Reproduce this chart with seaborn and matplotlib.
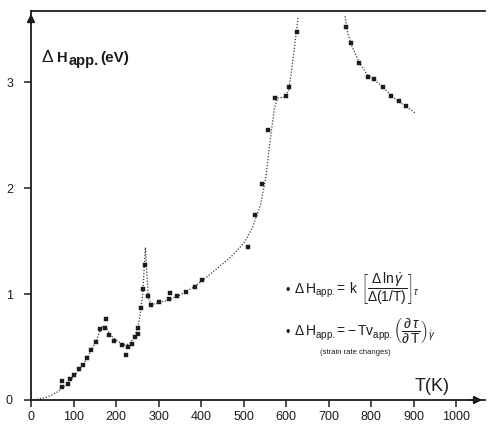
import matplotlib
matplotlib.use("Agg")
import matplotlib.pyplot as plt
import seaborn as sns
import pandas as pd

# Measured apparent activation enthalpy (eV) against temperature (K)
temp_pts = [74, 74, 88, 92, 101, 112, 122, 132, 142, 152, 161, 173, 176, 183,
            195, 214, 223, 229, 237, 244, 251, 251, 259, 263, 269, 274, 282,
            302, 325, 326, 344, 364, 385, 403, 509, 526, 544, 556, 574, 599,
            607, 625,
            740, 753, 772, 792, 806, 827, 845, 864, 882]
dh_pts = [0.18, 0.12, 0.15, 0.20, 0.24, 0.29, 0.33, 0.40, 0.47, 0.55, 0.67,
          0.68, 0.76, 0.61, 0.56, 0.52, 0.42, 0.50, 0.53, 0.59, 0.62, 0.68,
          0.87, 1.05, 1.27, 0.98, 0.90, 0.92, 0.95, 1.01, 0.98, 1.02, 1.07,
          1.13, 1.44, 1.75, 2.04, 2.55, 2.85, 2.87, 2.95, 3.47,
          3.52, 3.37, 3.18, 3.05, 3.03, 2.95, 2.87, 2.82, 2.77]

# Guide curve, low-temperature branch
curve_low_t = [0, 20, 40, 60, 75, 90, 100, 112, 122, 132, 142, 152, 161, 170,
               178, 190, 205, 220, 232, 244, 252, 258, 263, 266, 269, 272,
               276, 282, 295, 320, 350, 380, 410, 440, 470, 500, 520, 540,
               552, 562, 572, 580, 598, 606, 612, 620, 628]
curve_low_h = [0.0, 0.01, 0.03, 0.07, 0.12, 0.17, 0.22, 0.28, 0.33, 0.40,
               0.47, 0.55, 0.64, 0.70, 0.67, 0.60, 0.55, 0.52, 0.53, 0.60,
               0.70, 0.85, 1.02, 1.25, 1.44, 1.20, 0.96, 0.90, 0.91, 0.94,
               0.99, 1.06, 1.15, 1.25, 1.35, 1.48, 1.62, 1.85, 2.10, 2.45,
               2.75, 2.85, 2.86, 2.93, 3.10, 3.35, 3.62]

# Guide curve, high-temperature branch
curve_high_t = [738, 745, 755, 772, 790, 810, 830, 850, 870, 885, 902]
curve_high_h = [3.62, 3.45, 3.33, 3.18, 3.07, 3.01, 2.94, 2.86, 2.80, 2.76,
                2.71]

x_ticks = [0, 100, 200, 300, 400, 500, 600, 700, 800, 900, 1000]
y_ticks = [0, 1, 2, 3]

sns.set_theme(style="white")
plt.rcParams["font.family"] = ["Liberation Sans", "DejaVu Sans"]
plt.rcParams.update({
    "mathtext.fontset": "custom",
    "mathtext.rm": "Liberation Sans",
    "mathtext.it": "Liberation Sans:italic",
    "mathtext.bf": "Liberation Sans:bold",
})

W, H = 488, 425
ink = "#1c1c1c"
fig = plt.figure(figsize=(W / 100, H / 100), dpi=100)
ax = fig.add_axes([31 / W, 25 / H, 454 / W, 389 / H])

low = pd.DataFrame({"T": curve_low_t, "dH": curve_low_h})
high = pd.DataFrame({"T": curve_high_t, "dH": curve_high_h})
pts = pd.DataFrame({"T": temp_pts, "dH": dh_pts})

for part in (low, high):
    sns.lineplot(data=part, x="T", y="dH", sort=False, estimator=None, ax=ax,
                 color="#3a3a3a", linewidth=0.9, linestyle=(0, (1, 1.4)))
sns.scatterplot(data=pts, x="T", y="dH", ax=ax, marker="s", s=11,
                color=ink, edgecolor=ink, linewidth=0.3, zorder=3)

ax.set_xlim(0, 1067)
ax.set_ylim(0, 3.67)
ax.set_xticks(x_ticks)
ax.set_xticklabels([str(v) for v in x_ticks])
ax.set_yticks(y_ticks)
ax.set_yticklabels([str(v) for v in y_ticks])
ax.set_xlabel("")
ax.set_ylabel("")
ax.tick_params(axis="x", direction="out", length=5, width=1.1, colors=ink,
               labelsize=9, pad=3, bottom=True)
ax.tick_params(axis="y", direction="out", length=5, width=1.1, colors=ink,
               labelsize=9, pad=8, left=True)
for side in ("left", "bottom", "top"):
    ax.spines[side].set_color(ink)
    ax.spines[side].set_linewidth(1.3)
ax.spines["right"].set_visible(False)

# Arrow heads on the axes
ax.annotate("", xy=(0, 1.0), xytext=(0, 0.96), xycoords="axes fraction",
            arrowprops=dict(arrowstyle="-|>", color=ink, lw=1.2,
                            mutation_scale=12), annotation_clip=False)
ax.annotate("", xy=(1.0, 0), xytext=(0.96, 0), xycoords="axes fraction",
            arrowprops=dict(arrowstyle="-|>", color=ink, lw=1.2,
                            mutation_scale=12), annotation_clip=False)


def ftext(px, py, s, **kw):
    fig.text(px / W, 1 - py / H, s, color=ink, **kw)


# Axis titles
ftext(41, 62, r"$\Delta$", fontsize=12.5, va="baseline")
ftext(57, 62, "H", fontsize=10.5, fontweight="bold", va="baseline")
ftext(69, 65, "app.", fontsize=10.5, fontweight="bold", va="baseline")
ftext(100, 62, "(eV)", fontsize=11, fontweight="bold", va="baseline")
ftext(415, 391, "T(K)", fontsize=13, va="baseline")

# Formulas
ftext(286, 294, "\u2022", fontsize=9, va="baseline")
ftext(294, 294,
      r"$\Delta\,\mathrm{H}_{\mathrm{app.}}\!=\,\mathrm{k}\;\,"
      r"\left[\dfrac{\Delta\,\mathrm{ln}\,\dot{\gamma}}"
      r"{\Delta(1/\mathrm{T})}\right]_{\tau}$",
      fontsize=10, va="baseline")
ftext(286, 336, "\u2022", fontsize=9, va="baseline")
ftext(294, 336,
      r"$\Delta\,\mathrm{H}_{\mathrm{app.}}\!=-\,\mathrm{T}"
      r"\mathrm{v}_{\mathrm{app.}}\left(\dfrac{\partial\,\tau}"
      r"{\partial\,\mathrm{T}}\right)_{\dot{\gamma}}$",
      fontsize=10, va="baseline")
ftext(355, 353, "(strain rate changes)", fontsize=5.5, ha="center",
      va="center")

fig.savefig("out.png", dpi=100, facecolor="white")
